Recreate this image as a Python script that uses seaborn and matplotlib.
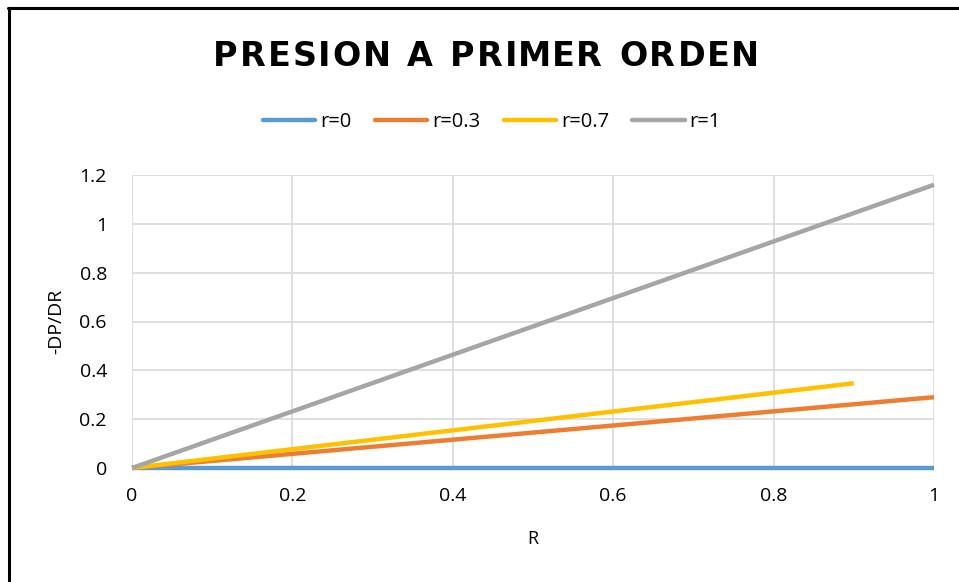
import matplotlib
matplotlib.use("Agg")
import matplotlib.pyplot as plt
import seaborn as sns
import pandas as pd
from matplotlib.lines import Line2D
from matplotlib.textpath import TextPath
from matplotlib.font_manager import FontProperties

# Series data: position R and pressure gradient -DP/DR for each r
r0_x = [0.0, 1.0]
r0_y = [0.0, 0.0]
r03_x = [0.0, 1.0]
r03_y = [0.0, 0.29]
r07_x = [0.0, 0.9]
r07_y = [0.0, 0.347]
r1_x = [0.0, 1.0]
r1_y = [0.0, 1.16]

series_names = ["r=0", "r=0.3", "r=0.7", "r=1"]
colors = ["#5B9BD5", "#ED7D31", "#FFC000", "#A5A5A5"]
x_ticks = [0, 0.2, 0.4, 0.6, 0.8, 1]
y_ticks = [0, 0.2, 0.4, 0.6, 0.8, 1, 1.2]
x_tick_labels = ["0", "0.2", "0.4", "0.6", "0.8", "1"]
y_tick_labels = ["0", "0.2", "0.4", "0.6", "0.8", "1", "1.2"]
title = "PRESION A PRIMER ORDEN"

frames = []
for name, xs, ys in zip(series_names,
                        [r0_x, r03_x, r07_x, r1_x],
                        [r0_y, r03_y, r07_y, r1_y]):
    frames.append(pd.DataFrame({"R": xs, "val": ys, "serie": name}))
df = pd.concat(frames, ignore_index=True)

sns.set_theme(style="white")
plt.rcParams["font.family"] = ["Open Sans", "DejaVu Sans"]
plt.rcParams["text.color"] = "black"
plt.rcParams["axes.labelcolor"] = "black"

W, H = 959, 582
fig = plt.figure(figsize=(W / 100, H / 100), dpi=100)
ax = fig.add_axes([132 / W, 1 - 468 / H, (934 - 132) / W, (468 - 175) / H])

sns.lineplot(data=df, x="R", y="val", hue="serie", hue_order=series_names,
             palette=colors, linewidth=3.2, ax=ax, legend=False,
             estimator=None, sort=False)
for ln in ax.lines:
    ln.set_solid_capstyle("butt")
    ln.set_clip_on(False)

ax.set_xlim(0, 1)
ax.set_ylim(0, 1.2)
ax.set_xticks(x_ticks)
ax.set_xticklabels(x_tick_labels)
ax.set_yticks(y_ticks)
ax.set_yticklabels(y_tick_labels)
ax.grid(True, color="#D9D9D9", linewidth=1.2)
ax.set_axisbelow(True)
for s in ax.spines.values():
    s.set_visible(False)
ax.tick_params(axis="both", length=0, labelsize=14, colors="black")
ax.tick_params(axis="x", pad=14)
ax.tick_params(axis="y", pad=18)
ax.set_xlabel("R", fontsize=13, labelpad=18, color="black")
ax.set_ylabel("-DP/DR", fontsize=14, labelpad=10, color="black")

# Title drawn letter by letter with even tracking
tfont = FontProperties(family="DejaVu Sans", weight="bold", size=24)
px_per_pt = 100 / 72
x_left, x_right, word_gap, baseline = 216, 756, 20, 66
glyphs = []
for ch in title:
    if ch == " ":
        glyphs.append(None)
    else:
        ext = TextPath((0, 0), ch, prop=tfont).get_extents()
        glyphs.append((ch, ext.x0 * px_per_pt, ext.width * px_per_pt))
ink_total = sum(g[2] for g in glyphs if g)
n_words = title.count(" ") + 1
n_inner = sum(1 for i in range(len(title) - 1)
              if title[i] != " " and title[i + 1] != " ")
tracking = (x_right - x_left - ink_total - word_gap * (n_words - 1)) / n_inner
x = x_left
for i, g in enumerate(glyphs):
    if g is None:
        continue
    ch, x0, w = g
    fig.text((x - x0) / W, 1 - baseline / H, ch, ha="left", va="baseline",
             fontproperties=tfont, color="black")
    x += w
    if i + 1 < len(glyphs):
        x += word_gap if glyphs[i + 1] is None else tracking

handles = [Line2D([], [], color=c, linewidth=3.2, solid_capstyle="round") for c in colors]
leg = fig.legend(handles, series_names, loc="center", bbox_to_anchor=(492 / W, 1 - 122 / H),
                 ncol=4, frameon=False, fontsize=14.5, handlelength=2.6,
                 handletextpad=0.25, columnspacing=1.15)
for t in leg.get_texts():
    t.set_color("black")

# chart frame (top and left edges)
fig.add_artist(Line2D([8 / W, 1.01], [1 - 7.5 / H, 1 - 7.5 / H],
                      transform=fig.transFigure, color="black", linewidth=2.2))
fig.add_artist(Line2D([8.5 / W, 8.5 / W], [-0.01, 1 - 7.5 / H],
                      transform=fig.transFigure, color="black", linewidth=2.2,
                      solid_capstyle="projecting"))

fig.savefig("out.png", dpi=100, facecolor="white")
